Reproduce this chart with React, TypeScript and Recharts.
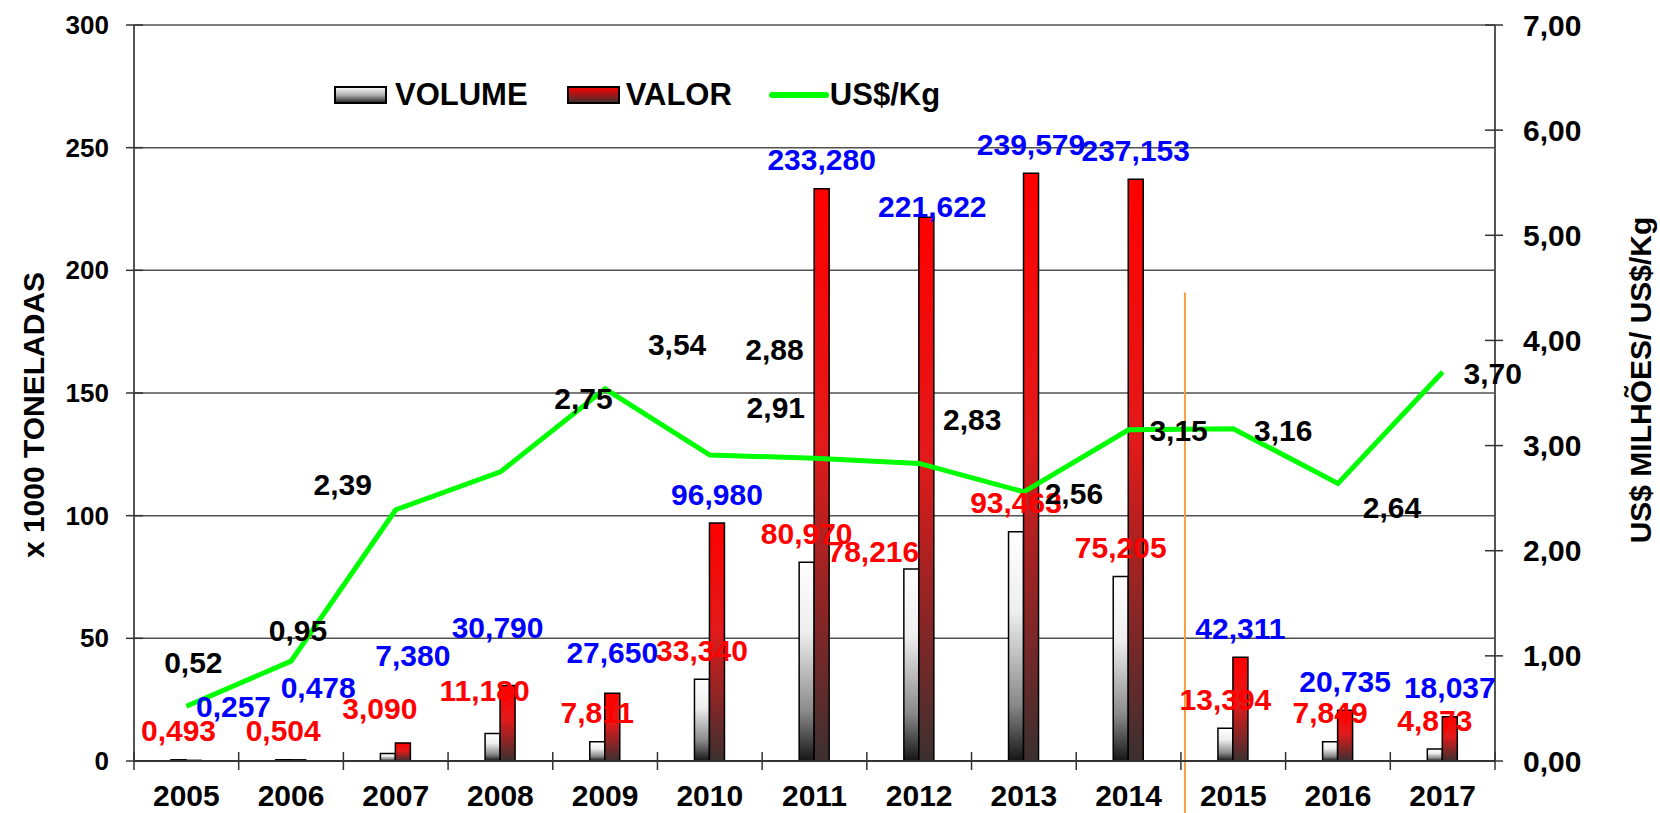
import React from 'react';
import {
  ComposedChart,
  Bar,
  Line,
  XAxis,
  YAxis,
  CartesianGrid,
  Legend,
  LabelList,
  ReferenceLine,
  Label,
} from 'recharts';

// ---------- data ----------
const years = ['2005', '2006', '2007', '2008', '2009', '2010', '2011', '2012', '2013', '2014', '2015', '2016', '2017'];
const volume = [0.493, 0.504, 3.09, 11.18, 7.811, 33.34, 80.97, 78.216, 93.463, 75.205, 13.394, 7.849, 4.873];
const valor = [0.257, 0.478, 7.38, 30.79, 27.65, 96.98, 233.28, 221.622, 239.579, 237.153, 42.311, 20.735, 18.037];
const pricePerKg = [0.52, 0.95, 2.39, 2.75, 3.54, 2.91, 2.88, 2.83, 2.56, 3.15, 3.16, 2.64, 3.7];
const leftTicks = [0, 50, 100, 150, 200, 250, 300];
const rightTicks = [0, 1, 2, 3, 4, 5, 6, 7];
const dividerYear = '2015';
const dividerTop = 191;

// ---------- label nudges (px) ----------
const volumeLabelShift = [[0, 0], [0, 0], [-8, -16], [-8, -14], [0, 0], [0, 0], [0, 0], [-38, 11], [0, 0], [0, 0], [0, 0], [0, 0], [0, 0]];
const valorLabelShift = [[40, -25], [20, -43], [10, -58], [-10, -29], [0, -12], [0, 0], [0, 0], [6, 18], [0, 0], [0, 0], [0, 0], [0, 0], [0, 0]];
const priceLabelShift = [[7, -44], [7, -31], [-53, -25], [83, -73], [72, -44], [66, -48], [-40, -109], [53, -44], [50, 2], [50, 1], [50, 2], [54, 24], [50, 2]];

const data = years.map((year, i) => ({ year, volume: volume[i], valor: valor[i], price: pricePerKg[i] }));

// ---------- layout ----------
const W = 1660;
const H = 813;
const LEFT_W = 134;
const RIGHT_W = 165;
const TOP = 25;
const X_H = 52;
const PLOT_W = W - LEFT_W - RIGHT_W;
const BAND = PLOT_W / years.length;
const FONT = '"Liberation Sans", Arial, Helvetica, sans-serif';

const fmt = (v: number, d: number) => Number(v).toFixed(d).replace('.', ',');

const getBox = (props: any) => {
  const vb = props.viewBox || {};
  return {
    x: vb.x ?? props.x,
    y: vb.y ?? props.y,
    width: vb.width ?? props.width ?? 0,
    height: vb.height ?? props.height ?? 0,
  };
};

const makeBarLabel = (color: string, shifts: number[][], series: number[], digits: number) => (props: any) => {
  const b = getBox(props);
  const idx = props.index ?? series.indexOf(Number(props.value));
  const [dx, dy] = shifts[idx] || [0, 0];
  const cx = b.x + b.width / 2;
  const top = Math.min(b.y, b.y + b.height);
  return (
    <text
      x={cx + dx}
      y={top - 29 + dy}
      textAnchor="middle"
      dominantBaseline="central"
      fill={color}
      fontSize={30}
      fontWeight="bold"
      fontFamily={FONT}
    >
      {fmt(Number(props.value), digits)}
    </text>
  );
};

const PriceLabel = (props: any) => {
  const px = props.x ?? props.viewBox?.x;
  const py = props.y ?? props.viewBox?.y;
  const idx = props.index ?? pricePerKg.indexOf(Number(props.value));
  const [dx, dy] = priceLabelShift[idx] || [0, 0];
  return (
    <text
      x={px + dx}
      y={py + dy}
      textAnchor="middle"
      dominantBaseline="central"
      fill="#000"
      fontSize={30}
      fontWeight="bold"
      fontFamily={FONT}
    >
      {fmt(Number(props.value), 2)}
    </text>
  );
};

const XTick = (props: any) => {
  const { x, y, payload } = props;
  const isLast = payload.value === years[years.length - 1];
  return (
    <g>
      <line x1={x - BAND / 2} x2={x - BAND / 2} y1={y - 9} y2={y + 9} stroke="#333" strokeWidth={1.5} />
      {isLast && <line x1={x + BAND / 2} x2={x + BAND / 2} y1={y - 9} y2={y + 9} stroke="#333" strokeWidth={1.5} />}
      <text x={x} y={y + 45} textAnchor="middle" fill="#000" fontSize={30} fontWeight="bold" fontFamily={FONT}>
        {payload.value}
      </text>
    </g>
  );
};

const LeftTick = (props: any) => {
  const { x, y, payload } = props;
  return (
    <g>
      <line x1={x - 8} x2={x + 9} y1={y} y2={y} stroke="#333" strokeWidth={1.5} />
      <text x={x - 25} y={y} textAnchor="end" dominantBaseline="central" fill="#000" fontSize={26} fontWeight="bold" fontFamily={FONT}>
        {payload.value}
      </text>
    </g>
  );
};

const RightTick = (props: any) => {
  const { x, y, payload } = props;
  return (
    <g>
      <line x1={x - 10} x2={x + 8} y1={y} y2={y} stroke="#333" strokeWidth={1.5} />
      <text x={x + 28} y={y} textAnchor="start" dominantBaseline="central" fill="#000" fontSize={30} fontWeight="bold" fontFamily={FONT}>
        {fmt(Number(payload.value), 2)}
      </text>
    </g>
  );
};

const LeftTitle = (props: any) => {
  const vb = props.viewBox || { x: 0, y: TOP, width: LEFT_W, height: H - TOP - X_H };
  const cx = vb.x + 33;
  const cy = vb.y + vb.height / 2 + 22;
  return (
    <text x={cx} y={cy} transform={`rotate(-90 ${cx} ${cy})`} textAnchor="middle" dominantBaseline="central" fill="#000" fontSize={30} fontWeight="bold" fontFamily={FONT}>
      x 1000 TONELADAS
    </text>
  );
};

const RightTitle = (props: any) => {
  const vb = props.viewBox || { x: W - RIGHT_W, y: TOP, width: RIGHT_W, height: H - TOP - X_H };
  const cx = vb.x + 145;
  const cy = vb.y + vb.height / 2 - 13;
  return (
    <text x={cx} y={cy} transform={`rotate(-90 ${cx} ${cy})`} textAnchor="middle" dominantBaseline="central" fill="#000" fontSize={30} fontWeight="bold" fontFamily={FONT}>
      US$ MILHÕES/ US$/Kg
    </text>
  );
};

const Swatch = ({ id, stops }: { id: string; stops: [string, string][] }) => (
  <svg width={54} height={19} style={{ display: 'block' }}>
    <defs>
      <linearGradient id={id} x1="0" y1="0" x2="0" y2="1">
        {stops.map(([o, c]) => (
          <stop key={o} offset={o} stopColor={c} />
        ))}
      </linearGradient>
    </defs>
    <rect x={1} y={1} width={51} height={16} fill={`url(#${id})`} stroke="#000" strokeWidth={2} />
  </svg>
);

const volStops: [string, string][] = [['0', '#ffffff'], ['0.35', '#eeeeee'], ['0.75', '#8a8a8a'], ['1', '#151515']];
const valStops: [string, string][] = [['0', '#ff0000'], ['0.45', '#e21a1a'], ['1', '#3b3030']];

const LegendContent = () => (
  <div
    style={{
      display: 'flex',
      alignItems: 'center',
      fontFamily: FONT,
      fontWeight: 'bold',
      fontSize: 31,
      lineHeight: '36px',
      color: '#000',
      whiteSpace: 'nowrap',
    }}
  >
    <Swatch id="lgVol" stops={[['0', '#ffffff'], ['0.5', '#b0b0b0'], ['1', '#202020']]} />
    <span style={{ marginLeft: 7 }}>VOLUME</span>
    <span style={{ marginLeft: 39 }}>
      <Swatch id="lgVal" stops={[['0', '#ff0000'], ['1', '#3b3030']]} />
    </span>
    <span style={{ marginLeft: 5 }}>VALOR</span>
    <svg width={62} height={12} style={{ marginLeft: 36, display: 'block' }}>
      <line x1={4} x2={58} y1={6} y2={6} stroke="#00ff00" strokeWidth={6} strokeLinecap="round" />
    </svg>
    <span style={{ marginLeft: 0 }}>US$/Kg</span>
  </div>
);

const Divider = (p: any) => {
  const x = p.x1 - BAND / 2 + 4;
  const top = Math.min(p.y1, p.y2);
  return <line x1={x} x2={x} y1={top} y2={H} stroke="#f7a040" strokeWidth={2} />;
};

export default function App() {
  return (
    <div style={{ width: W, height: H, background: '#fff', overflow: 'hidden' }}>
      <style>{'body{margin:0;background:#fff;}'}</style>
      <ComposedChart
        width={W}
        height={H}
        data={data}
        margin={{ top: TOP, right: 0, left: 0, bottom: 0 }}
        barSize={15}
        barGap={0}
        style={{ fontFamily: FONT }}
      >
        <defs>
          <linearGradient id="gVol" x1="0" y1="0" x2="0" y2="1">
            {volStops.map(([o, c]) => (
              <stop key={o} offset={o} stopColor={c} />
            ))}
          </linearGradient>
          <linearGradient id="gVal" x1="0" y1="0" x2="0" y2="1">
            {valStops.map(([o, c]) => (
              <stop key={o} offset={o} stopColor={c} />
            ))}
          </linearGradient>
        </defs>
        <CartesianGrid yAxisId="left" vertical={false} stroke="#505050" strokeWidth={1.5} />
        <XAxis
          dataKey="year"
          interval={0}
          height={X_H}
          tickSize={0}
          tickMargin={0}
          tickLine={false}
          axisLine={{ stroke: '#333', strokeWidth: 2 }}
          tick={<XTick />}
        />
        <YAxis
          yAxisId="left"
          orientation="left"
          width={LEFT_W}
          domain={[0, 300]}
          ticks={leftTicks}
          interval={0}
          tickSize={0}
          tickMargin={0}
          tickLine={false}
          axisLine={{ stroke: '#555', strokeWidth: 2 }}
          tick={<LeftTick />}
        >
          <Label content={<LeftTitle />} />
        </YAxis>
        <YAxis
          yAxisId="right"
          orientation="right"
          width={RIGHT_W}
          domain={[0, 7]}
          ticks={rightTicks}
          interval={0}
          tickSize={0}
          tickMargin={0}
          tickLine={false}
          axisLine={{ stroke: '#555', strokeWidth: 2 }}
          tick={<RightTick />}
        >
          <Label content={<RightTitle />} />
        </YAxis>
        <Legend
          verticalAlign="middle"
          align="center"
          layout="horizontal"
          wrapperStyle={{ left: 334, top: 77, width: 700, height: 36 }}
          content={<LegendContent />}
        />
        <Bar yAxisId="left" dataKey="volume" name="VOLUME" fill="url(#gVol)" stroke="#000" strokeWidth={1.5} isAnimationActive={false}>
          <LabelList dataKey="volume" content={makeBarLabel('#ff0000', volumeLabelShift, volume, 3)} />
        </Bar>
        <Bar yAxisId="left" dataKey="valor" name="VALOR" fill="url(#gVal)" stroke="#000" strokeWidth={1.5} isAnimationActive={false}>
          <LabelList dataKey="valor" content={makeBarLabel('#0000ff', valorLabelShift, valor, 3)} />
        </Bar>
        <ReferenceLine
          yAxisId="left"
          segment={[
            { x: dividerYear, y: dividerTop },
            { x: dividerYear, y: 0 },
          ]}
          stroke="#f7a040"
          strokeWidth={2}
          shape={Divider}
        />
        <Line
          yAxisId="right"
          dataKey="price"
          name="US$/Kg"
          type="linear"
          stroke="#00ff00"
          strokeWidth={5}
          dot={false}
          activeDot={false}
          isAnimationActive={false}
        >
          <LabelList dataKey="price" content={PriceLabel} />
        </Line>
      </ComposedChart>
    </div>
  );
}
